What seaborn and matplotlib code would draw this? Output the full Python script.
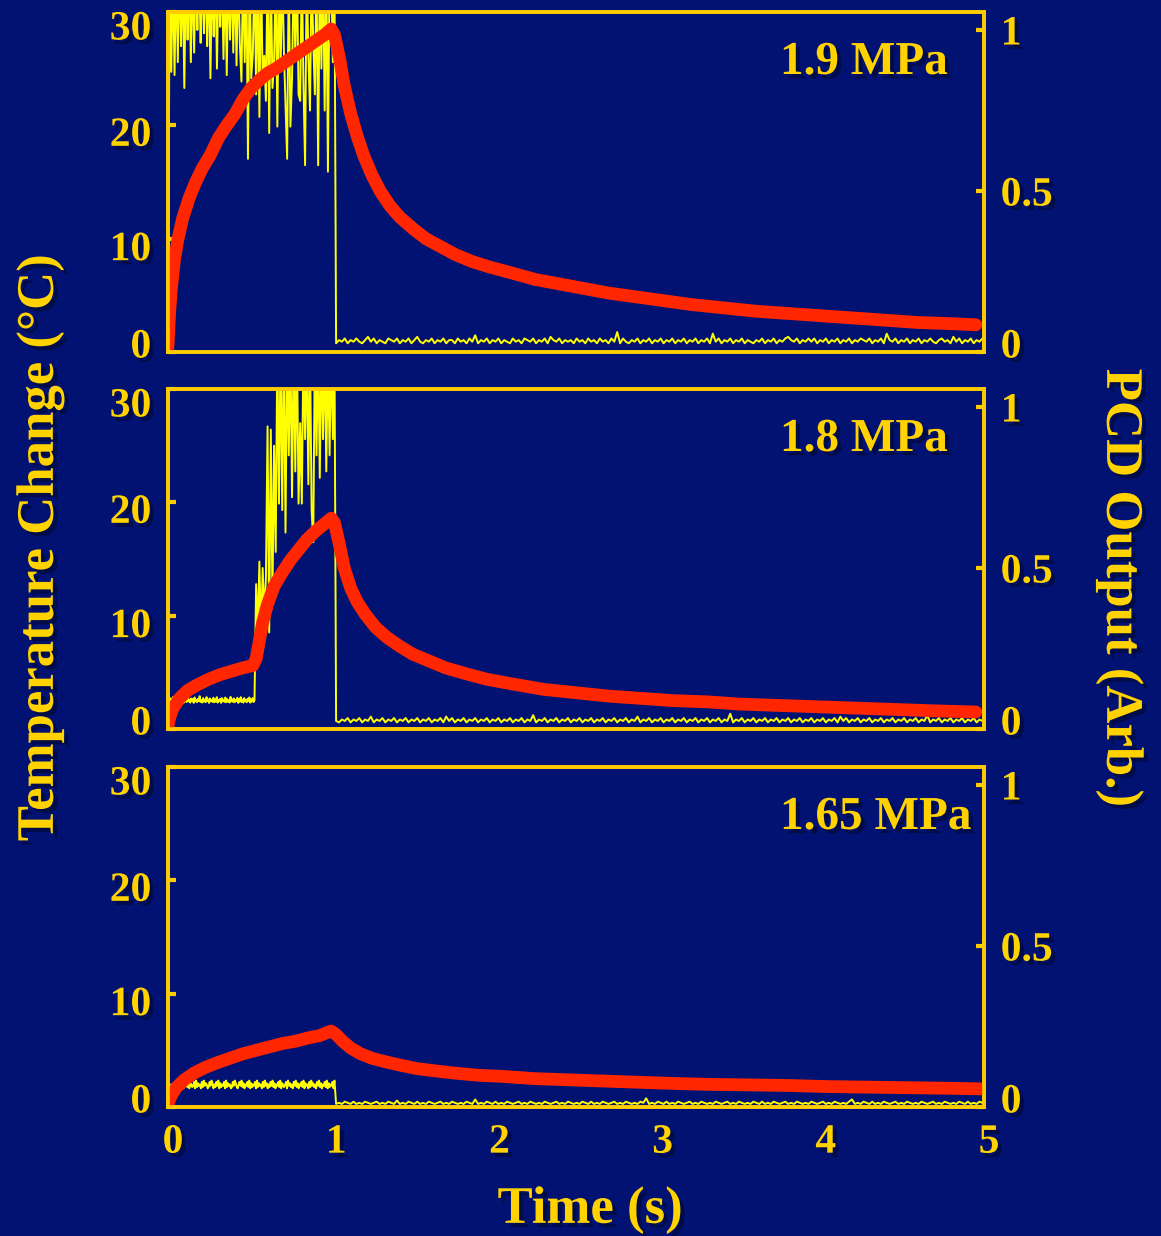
import numpy as np
import pandas as pd
import matplotlib
matplotlib.use("Agg")
import matplotlib.pyplot as plt
import matplotlib.patheffects as pe
import matplotlib.transforms as mtransforms
import seaborn as sns

# ---------------------------------------------------------------- colours
BG = "#011272"
GOLD = "#FFCC00"
TEXT = "#FFD200"
PCD_YELLOW = "#FFFF00"
TEMP_RED = "#FF2600"

# ---------------------------------------------------------------- data
pressures = ["1.9 MPa", "1.8 MPa", "1.65 MPa"]

# temperature change (deg C) vs time (s)
t1 = [0.0, 0.01, 0.02, 0.04, 0.06, 0.09, 0.13, 0.17, 0.21, 0.26, 0.31, 0.36,
      0.41, 0.46, 0.51, 0.56, 0.61, 0.66, 0.71, 0.76, 0.81, 0.86, 0.91, 0.96,
      1.0, 1.02, 1.05, 1.08, 1.12, 1.16, 1.20, 1.25, 1.30, 1.36, 1.42, 1.50,
      1.58, 1.67, 1.76, 1.86, 1.97, 2.1, 2.25, 2.4, 2.55, 2.7, 2.85, 3.0,
      3.2, 3.4, 3.6, 3.8, 4.0, 4.2, 4.4, 4.6, 4.8, 4.95]
temp1 = [0.5, 3.5, 5.5, 8.2, 9.9, 11.8, 13.6, 15.0, 16.2, 17.4, 18.9, 20.0,
         21.0, 22.3, 23.3, 24.0, 24.6, 25.0, 25.5, 26.0, 26.5, 27.0, 27.5, 28.0,
         28.5, 28.0, 26.0, 23.5, 21.0, 19.0, 17.3, 15.6, 14.2, 12.9, 11.9, 10.9,
         10.0, 9.3, 8.6, 8.0, 7.5, 7.0, 6.4, 6.0, 5.6, 5.2, 4.9, 4.6,
         4.2, 3.9, 3.6, 3.4, 3.2, 3.0, 2.8, 2.6, 2.5, 2.4]

t2 = [0.0, 0.01, 0.03, 0.07, 0.12, 0.18, 0.25, 0.32, 0.39, 0.46, 0.52, 0.54,
      0.56, 0.58, 0.61, 0.65, 0.70, 0.75, 0.80, 0.85, 0.90, 0.95, 1.0, 1.02,
      1.05, 1.08, 1.12, 1.16, 1.21, 1.27, 1.34, 1.42, 1.50, 1.60, 1.70, 1.82,
      1.95, 2.1, 2.3, 2.5, 2.7, 2.9, 3.1, 3.3, 3.5, 3.7, 3.9, 4.1, 4.3, 4.5,
      4.7, 4.95]
temp2 = [0.3, 1.0, 1.8, 2.7, 3.4, 3.9, 4.4, 4.8, 5.1, 5.4, 5.6, 6.2,
         7.8, 9.4, 11.0, 12.6, 13.8, 14.9, 15.8, 16.7, 17.4, 18.0, 18.6, 18.2,
         16.3, 14.2, 12.4, 11.2, 10.1, 9.0, 8.1, 7.3, 6.6, 6.0, 5.4, 4.9,
         4.4, 4.0, 3.5, 3.2, 2.9, 2.7, 2.5, 2.4, 2.2, 2.1, 2.0, 1.9, 1.8, 1.7,
         1.6, 1.5]

t3 = [0.0, 0.02, 0.05, 0.1, 0.16, 0.23, 0.3, 0.38, 0.46, 0.54, 0.62, 0.70,
      0.78, 0.86, 0.93, 0.98, 1.0, 1.03, 1.07, 1.12, 1.18, 1.25, 1.33, 1.42,
      1.52, 1.63, 1.75, 1.9, 2.05, 2.25, 2.45, 2.65, 2.85, 3.05, 3.3, 3.55,
      3.8, 4.05, 4.3, 4.55, 4.8, 4.98]
temp3 = [0.3, 1.0, 1.7, 2.4, 3.0, 3.5, 3.9, 4.3, 4.7, 5.0, 5.3, 5.6,
         5.8, 6.1, 6.3, 6.6, 6.7, 6.4, 5.8, 5.2, 4.7, 4.3, 4.0, 3.7,
         3.4, 3.2, 3.0, 2.8, 2.7, 2.5, 2.4, 2.3, 2.2, 2.1, 2.0, 1.95,
         1.9, 1.8, 1.75, 1.7, 1.65, 1.6]

# PCD output (arb.), 1.9 MPa, during sonication (0 - 1.02 s, evenly sampled)
pcd1_on = [0.0, 1.2, 0.87, 1.2, 0.86, 1.2, 0.90, 1.2, 0.95, 1.2,
           0.82, 1.2, 0.97, 1.2, 0.90, 1.2, 0.93, 1.2, 1.0, 1.2,
           0.96, 1.2, 0.99, 1.2, 0.95, 1.2, 0.85, 1.2, 0.98, 1.2,
           0.88, 1.2, 1.01, 1.2, 0.91, 1.2, 0.86, 1.2, 0.97, 1.2,
           0.93, 1.2, 0.89, 1.2, 0.96, 0.84, 1.2, 0.90, 1.2, 0.60,
           1.2, 0.85, 0.93, 1.2, 0.80, 1.2, 0.73, 1.2, 0.84, 0.92,
           0.78, 1.2, 0.68, 1.2, 0.82, 0.90, 1.2, 0.70, 1.2, 0.87,
           1.2, 0.94, 0.77, 0.60, 1.2, 0.70, 0.85, 1.2, 0.92, 1.2,
           0.80, 0.78, 1.2, 0.83, 0.58, 1.2, 0.92, 0.75, 1.2, 0.96,
           0.80, 1.2, 0.58, 1.2, 0.88, 1.2, 0.75, 1.2, 0.56, 1.2,
           1.2, 0.90, 1.2]

# PCD output, 1.8 MPa: quiet part (0 - 0.53 s) and cavitation burst (0.54 - 1.02 s)
pcd2_quiet = [0.0, 0.08,
              0.085, 0.095, 0.080, 0.090, 0.100, 0.082, 0.088, 0.094, 0.081, 0.097,
              0.086, 0.090, 0.083, 0.099, 0.087, 0.092, 0.080, 0.096, 0.085, 0.089,
              0.084, 0.101, 0.086, 0.091, 0.082, 0.095, 0.088, 0.093, 0.081, 0.098,
              0.086, 0.090, 0.083, 0.094, 0.087, 0.102, 0.084, 0.089, 0.082, 0.096,
              0.085, 0.091, 0.083, 0.099, 0.087, 0.092, 0.081, 0.095, 0.086, 0.090,
              0.084, 0.097, 0.083, 0.092, 0.085, 0.099, 0.082, 0.090, 0.087, 0.094,
              0.081, 0.096, 0.086, 0.091, 0.084, 0.098, 0.083, 0.093, 0.085, 0.089,
              0.082, 0.100, 0.086, 0.092, 0.084, 0.095, 0.083, 0.090, 0.087, 0.097,
              0.081, 0.093, 0.085, 0.099, 0.084, 0.091, 0.082, 0.096, 0.086, 0.090,
              0.083, 0.094, 0.087, 0.098, 0.082, 0.092, 0.085, 0.096, 0.084, 0.089]
pcd2_burst = [0.45, 0.30, 0.52, 0.28, 0.50, 0.35, 0.47, 0.94, 0.30, 0.93,
              0.40, 0.88, 0.55, 1.2, 0.70, 1.2, 0.68, 1.2, 0.61, 1.2,
              0.85, 1.2, 0.72, 1.2, 0.80, 1.2, 0.70, 0.95, 0.70, 1.2,
              0.90, 1.2, 0.76, 1.2, 0.68, 0.58, 1.2, 0.85, 1.2, 0.78,
              1.2, 0.90, 1.2, 0.80, 1.2, 0.85, 1.2, 0.90, 1.2]

# PCD output, 1.65 MPa, during sonication (0 - 1.02 s): level codes 0-9
pcd3_on_codes = ("0124315263417253146327154236172534162735"
                 "4126375142637152436172534126375214637251"
                 "4362715243617253416273514263725143627153"
                 "2461735241637251436271534162735241637251"
                 "4362715243617")

# PCD output after sonication (1.03 - 4.99 s): level codes 0-9
pcd1_off_codes = ("13241324213524132143241324135213241324133142314261324132413214"
                  "23143241324153241323142314231423142814213241324132413241324132"
                  "41324172413241324132132413241324532413242413241324132413243241"
                  "32417324132413241324213423152413241324")
pcd2_off_codes = ("21324132413251324132413241324132413241524132413241324132413241"
                  "32413261324132413241324132413241324132413251324132413241324132"
                  "41324132413271324132413241324132413241324132413241524132413241"
                  "32413241324132413261324132413241324132")
pcd3_off_codes = ("12132131213212312132141213213121321231213212132151213213121321"
                  "23121321213212312132121321312132123121321213261213213121321231"
                  "21321213212312132121321312132123121321213212312132121351213213"
                  "12132123121321213212312132121321312132")

# level-code scaling (offset, step) per panel for the PCD band traces
off_scale = [(0.022, 0.005), (0.016, 0.0045), (0.006, 0.0035)]
on3_scale = (0.054, 0.004)

temp_time = [t1, t2, t3]
temp_vals = [temp1, temp2, temp3]

x_ticks = [0, 1, 2, 3, 4, 5]
left_ticks = [0, 10, 20, 30]
right_ticks = [0, 0.5, 1]
right_tick_labels = ["0", "0.5", "1"]


def decode(codes, scale):
    base, step = scale
    return [base + step * int(c) for c in codes]


pcd1_off = decode(pcd1_off_codes, off_scale[0])
pcd2_off = decode(pcd2_off_codes, off_scale[1])
pcd3_off = decode(pcd3_off_codes, off_scale[2])
pcd3_on = decode(pcd3_on_codes, on3_scale)

# (time, value) for each PCD trace
pcd_t = [
    np.concatenate([np.linspace(0.0, 1.02, len(pcd1_on)),
                    np.linspace(1.03, 4.99, len(pcd1_off))]),
    np.concatenate([np.linspace(0.0, 0.53, len(pcd2_quiet)),
                    np.linspace(0.54, 1.02, len(pcd2_burst)),
                    np.linspace(1.03, 4.99, len(pcd2_off))]),
    np.concatenate([np.linspace(0.0, 1.02, len(pcd3_on)),
                    np.linspace(1.03, 4.99, len(pcd3_off))]),
]
pcd_v = [
    np.concatenate([pcd1_on, pcd1_off]),
    np.concatenate([pcd2_quiet, pcd2_burst, pcd2_off]),
    np.concatenate([pcd3_on, pcd3_off]),
]

# ---------------------------------------------------------------- style
sns.set_theme(style="white")
plt.rcParams["font.family"] = ["Liberation Serif", "DejaVu Serif"]
plt.rcParams["font.weight"] = "bold"

shadow = [pe.SimplePatchShadow(offset=(3, -3), shadow_rgbFace="#000418", alpha=0.45),
          pe.Normal()]

fig = plt.figure(figsize=(11.61, 12.36), dpi=100, facecolor=BG)

W, H = 1161, 1236
left_px, right_px = 168, 984
panel_tops = [12, 389, 767]
panel_h = 340

# vertical nudges (px, + is up) of the tick labels
left_nudge = [9, -7, -6, -13]
right_nudge = [9, 0, 0]


def style_labels(labels, dx=None, dy=None):
    for k, lab in enumerate(labels):
        lab.set_path_effects(shadow)
        lab.set_color(TEXT)
        lab.set_fontweight("bold")
        ox = 0 if dx is None else dx
        oy = 0 if dy is None else dy[k]
        if ox or oy:
            lab.set_transform(lab.get_transform() +
                              mtransforms.ScaledTranslation(ox / 100, oy / 100,
                                                            fig.dpi_scale_trans))


for i in range(3):
    top = panel_tops[i]
    rect = [left_px / W, 1 - (top + panel_h) / H, (right_px - left_px) / W, panel_h / H]
    ax = fig.add_axes(rect)
    ax2 = ax.twinx()
    # temperature axes drawn over the PCD axes
    ax.set_zorder(ax2.get_zorder() + 1)
    ax.patch.set_visible(False)
    ax2.set_facecolor(BG)

    # PCD trace (right axis)
    pcd_df = pd.DataFrame({"time": pcd_t[i], "pcd": pcd_v[i]})
    sns.lineplot(data=pcd_df, x="time", y="pcd", ax=ax2, color=PCD_YELLOW,
                 linewidth=1.4, estimator=None, sort=False)

    # temperature trace (left axis)
    temp_df = pd.DataFrame({"time": temp_time[i], "temp": temp_vals[i]})
    sns.lineplot(data=temp_df, x="time", y="temp", ax=ax, color=TEMP_RED,
                 linewidth=9.2, estimator=None, sort=False,
                 solid_capstyle="round", solid_joinstyle="round")

    ax.set_xlim(0, 5)
    ax.set_ylim(0, 30)
    ax2.set_ylim(0, 1.056)
    ax.set_xlabel("")
    ax.set_ylabel("")
    ax2.set_ylabel("")

    for a in (ax, ax2):
        for sp in a.spines.values():
            sp.set_visible(True)
            sp.set_color(GOLD)
            sp.set_linewidth(2.6)
        a.grid(False)

    # x ticks: white inward marks at interior seconds, labels only at bottom
    ax.set_xticks(x_ticks)
    ax.set_xticks([1, 2, 3, 4], minor=True)
    ax.tick_params(axis="x", which="major", length=0, pad=12,
                   labelsize=30, labelcolor=TEXT, labelbottom=(i == 2))
    ax.tick_params(axis="x", which="minor", direction="in", length=7, width=2,
                   color="white", bottom=True, top=False)

    ax.set_yticks(left_ticks)
    ax.set_yticklabels([str(v) for v in left_ticks])
    ax.tick_params(axis="y", direction="in", length=6, width=3, color=GOLD,
                   pad=12, labelsize=30, labelcolor=TEXT, left=True, right=False)
    ax2.set_yticks(right_ticks)
    ax2.set_yticklabels(right_tick_labels)
    ax2.tick_params(axis="y", direction="in", length=6, width=3, color=GOLD,
                    pad=12, labelsize=30, labelcolor=TEXT, right=True, left=False)

    style_labels(ax.get_yticklabels(), dy=left_nudge)
    style_labels(ax2.get_yticklabels(), dy=right_nudge)
    if i == 2:
        style_labels(ax.get_xticklabels(), dx=5, dy=[0] * len(x_ticks))

    ax.text(0.75, 0.85, pressures[i], transform=ax.transAxes, fontsize=34,
            fontweight="bold", color=TEXT, ha="left", va="center",
            path_effects=shadow, zorder=5)

fig.text(40 / W, 1 - 548 / H, "Temperature Change (°C)", rotation=90,
         fontsize=38, fontweight="bold", color=TEXT, ha="center", va="center",
         path_effects=shadow)
fig.text(1120 / W, 1 - 588 / H, "PCD Output (Arb.)", rotation=270,
         fontsize=38, fontweight="bold", color=TEXT, ha="center", va="center",
         path_effects=shadow)
fig.text(590 / W, 1 - 1210 / H, "Time (s)", fontsize=38, fontweight="bold",
         color=TEXT, ha="center", va="center", path_effects=shadow)

fig.savefig("out.png", dpi=100, facecolor=BG)
